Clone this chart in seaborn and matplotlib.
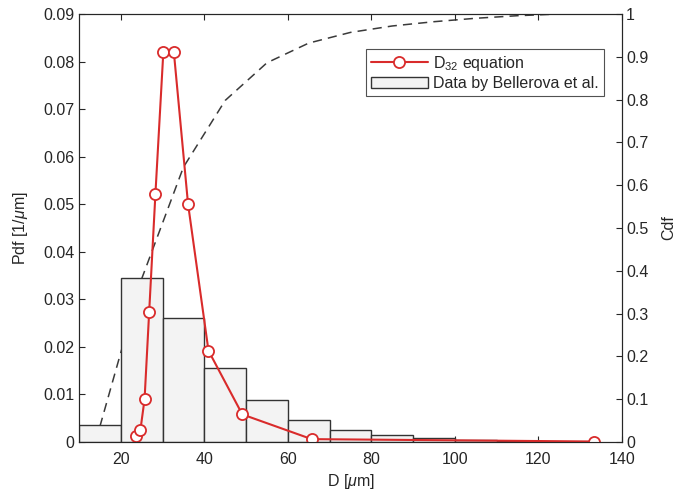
import numpy as np
import pandas as pd
import matplotlib
matplotlib.use("Agg")
import matplotlib.pyplot as plt
import seaborn as sns

# Histogram (Data by Bellerova et al.)
bin_edges = [10, 20, 30, 40, 50, 60, 70, 80, 90, 100, 110, 120]
bin_pdf = [0.0036, 0.0345, 0.0261, 0.0156, 0.0088, 0.0046, 0.0025, 0.0015, 0.0009, 0.0004, 0.0002]

# D32 equation curve
d32_x = [23.7, 24.7, 25.7, 26.8, 28.3, 30.2, 32.7, 36.1, 41.0, 49.1, 65.7, 133.3]
d32_pdf = [0.0012, 0.0025, 0.0090, 0.0273, 0.0522, 0.0821, 0.0821, 0.0501, 0.0192, 0.0058, 0.0006, 0.0001]

# Cdf (dashed)
cdf_x = [15, 25, 35, 45, 55, 65, 75, 85, 95, 105, 115, 125]
cdf_y = [0.036, 0.381, 0.642, 0.798, 0.886, 0.932, 0.957, 0.972, 0.982, 0.990, 0.996, 1.0]

sns.set_theme(style="white")
plt.rcParams['font.family'] = ['Liberation Sans', 'DejaVu Sans']
plt.rcParams['mathtext.fontset'] = 'custom'
plt.rcParams['mathtext.rm'] = 'Liberation Sans'
plt.rcParams['mathtext.it'] = 'Liberation Sans:italic'

FS = 11.5
fig = plt.figure(figsize=(6.78, 4.96), dpi=100)
ax = fig.add_axes([0.1165, 0.1089, 0.8009, 0.8629])

centers = [(bin_edges[i] + bin_edges[i + 1]) / 2 for i in range(len(bin_pdf))]
hist_df = pd.DataFrame({"D": centers, "pdf": bin_pdf})
sns.histplot(data=hist_df, x="D", weights="pdf", bins=bin_edges, stat="count",
             color="#f3f3f3", edgecolor="#333333", linewidth=1.0, alpha=1.0, ax=ax,
             label="Data by Bellerova et al.")

red = "#d92b2b"
d32_df = pd.DataFrame({"D": d32_x, "pdf": d32_pdf})
sns.lineplot(data=d32_df, x="D", y="pdf", sort=False, color=red, linewidth=1.5,
             marker="o", markersize=8, markerfacecolor="white", markeredgecolor=red,
             markeredgewidth=1.3, ax=ax, label="D$_{32}$ equation")

ax.set_xlim(10, 140)
ax.set_ylim(0, 0.09)
ax.set_xticks([20, 40, 60, 80, 100, 120, 140])
ax.set_yticks(np.arange(0, 0.0901, 0.01))
ax.set_yticklabels(["0", "0.01", "0.02", "0.03", "0.04", "0.05", "0.06", "0.07", "0.08", "0.09"])
ax.set_xlabel("D [$\\mu$m]", fontsize=FS, color="#262626", labelpad=4)
ax.set_ylabel("Pdf [1/$\\mu$m]", fontsize=FS, color="#262626", labelpad=9)

ax2 = ax.twinx()
cdf_df = pd.DataFrame({"D": cdf_x, "cdf": cdf_y})
sns.lineplot(data=cdf_df, x="D", y="cdf", color="#3a3a3a", linewidth=1.1,
             linestyle=(0, (6, 4)), ax=ax2, legend=False)
ax2.set_ylim(0, 1)
ax2.set_yticks(np.arange(0, 1.01, 0.1))
ax2.set_yticklabels(["0", "0.1", "0.2", "0.3", "0.4", "0.5", "0.6", "0.7", "0.8", "0.9", "1"])
ax2.set_ylabel("Cdf", fontsize=FS, color="#262626", labelpad=9)
ax2.set_xlabel("")

for a in (ax, ax2):
    for s in a.spines.values():
        s.set_color("#262626")
        s.set_linewidth(0.8)
    a.tick_params(direction="in", length=4, width=0.8, colors="#262626",
                  labelsize=FS, labelcolor="#262626")
ax.tick_params(top=True, right=False, bottom=True, left=True)
ax2.tick_params(right=True, left=False, pad=3)
ax.tick_params(axis="x", pad=7)

ax.set_zorder(ax2.get_zorder() + 1)
ax.patch.set_visible(False)

handles, labels = ax.get_legend_handles_labels()
order = [labels.index("D$_{32}$ equation"), labels.index("Data by Bellerova et al.")]
leg = ax.legend([handles[i] for i in order], [labels[i] for i in order],
                loc="upper right", bbox_to_anchor=(0.966, 0.918),
                fontsize=FS, frameon=True, fancybox=False, borderpad=0.3,
                handlelength=3.6, handletextpad=0.3, labelspacing=0.2, borderaxespad=0)
leg.get_frame().set_edgecolor("#262626")
leg.get_frame().set_linewidth(0.8)

fig.savefig("out.png", dpi=100, facecolor="white")
